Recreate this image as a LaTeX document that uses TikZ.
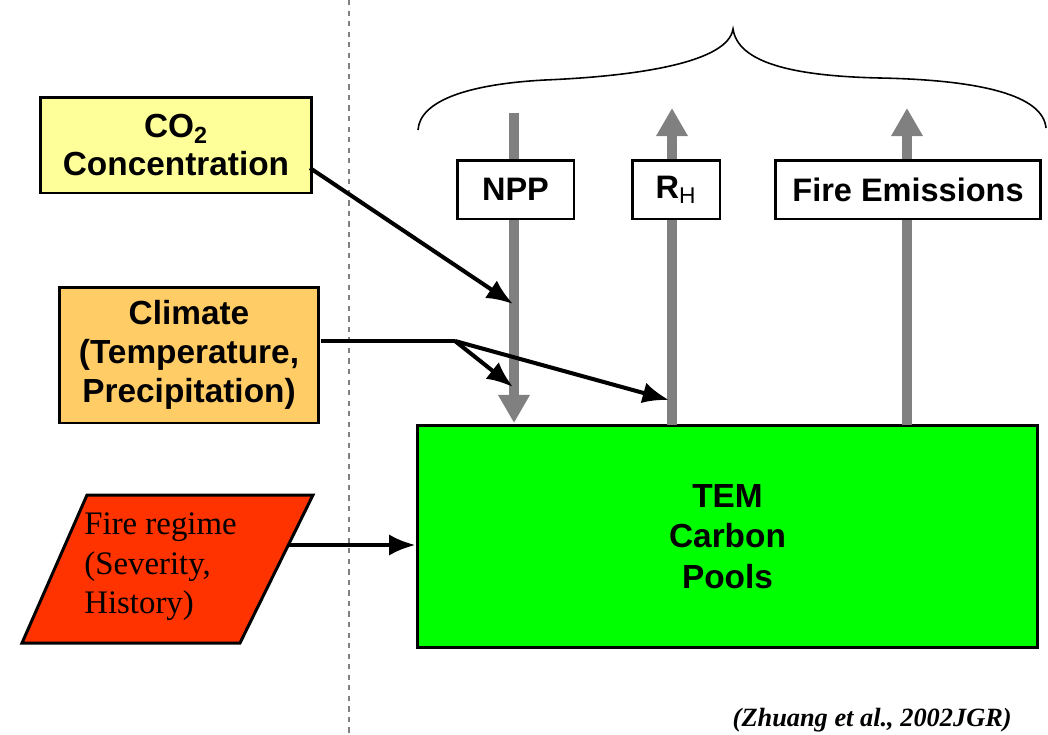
\documentclass[tikz,border=0pt]{standalone}
\usepackage{fontspec}
\setmainfont{Liberation Serif}
\setsansfont{Liberation Sans}
\usetikzlibrary{arrows.meta}
\definecolor{co2fill}{HTML}{FFFF99}
\definecolor{climfill}{HTML}{FFCC66}
\definecolor{firefill}{HTML}{FF3300}
\definecolor{poolfill}{HTML}{00FF00}
\definecolor{flowgray}{HTML}{808080}
\tikzset{
  inbox/.style={draw=black, line width=1.7pt, align=center, inner sep=0pt,
    font=\sffamily\bfseries\fontsize{18.5}{21}\selectfont},
  fluxbox/.style={draw=black, line width=1.7pt, fill=white, inner sep=0pt,
    minimum height=1.18cm, font=\sffamily\bfseries\fontsize{18.5}{21}\selectfont},
  driver/.style={line width=2.3pt, -{Latex[length=15pt,width=12pt]}},
  flux/.style={flowgray, line width=5.7pt, -{Triangle[length=16pt,width=17pt]}},
  shaft/.style={flowgray, line width=5.7pt},
}
\begin{document}
\begin{tikzpicture}[x=0.02cm, y=-0.02cm]
\useasboundingbox (0,0) rectangle (1048,734);
% separator
\draw[gray, dashed, line width=0.6pt] (349,0) -- (349,734);
% brace
\draw[line width=0.9pt] (418,130) .. controls (420,100) and (470,84) .. (545,80)
  .. controls (640,76) and (728,62) .. (733,29)
  .. controls (738,62) and (790,76) .. (880,78)
  .. controls (980,80) and (1043,95) .. (1046,128);
% driver boxes
\node[inbox, fill=co2fill, minimum width=5.44cm, minimum height=1.92cm,
  font=\sffamily\bfseries\fontsize{19}{21.5}\selectfont] (co2) at (176,145)
  {CO\textsubscript{2}\\Concentration};
\node[inbox, fill=climfill, minimum width=5.2cm, minimum height=2.72cm,
  font=\sffamily\bfseries\fontsize{19}{22}\selectfont] (clim) at (189,355)
  {Climate\\(Temperature,\\Precipitation)};
% fire regime parallelogram
\filldraw[fill=firefill, draw=black, line width=1.7pt]
  (87,495) -- (313,495) -- (240,643) -- (22,643) -- cycle;
\node[anchor=west, align=left, inner sep=0pt,
  font=\rmfamily\fontsize{18.7}{22.5}\selectfont] (fire) at (84,567)
  {Fire regime\\(Severity,\\History)};
\coordinate (fireout) at (289,545);
% carbon pools
\node[inbox, fill=poolfill, minimum width=12.42cm, minimum height=4.46cm,
  font=\sffamily\bfseries\fontsize{19}{23}\selectfont] (pools) at (727.5,536.5)
  {TEM\\Carbon\\Pools};
% flux labels
\node[fluxbox, minimum width=2.34cm] (npp) at (515.5,189.5) {NPP};
\node[fluxbox, minimum width=1.76cm] (rh) at (676,189.5) {R\textsubscript{\mdseries H}};
\node[fluxbox, minimum width=5.3cm] (fe) at (908,189.5) {Fire Emissions};
% flux coordinates
\coordinate (nppTop) at (514,113);
\coordinate (nppBot) at (514,423);
\coordinate (rhBot) at (672,425);
\coordinate (rhTop) at (672,108);
\coordinate (feBot) at (907,425);
\coordinate (feTop) at (907,108);
% gray flux arrows
\draw[shaft] (nppTop) -- (nppTop |- npp.north);
\draw[flux] (npp.south -| nppTop) -- (nppBot);
\draw[shaft] (rhBot) -- (rh.south -| rhBot);
\draw[flux] (rh.north -| rhBot) -- (rhTop);
\draw[shaft] (feBot) -- (fe.south -| feBot);
\draw[flux] (fe.north -| feBot) -- (feTop);
% driver arrows
\coordinate (co2out) at (310,168);
\coordinate (nppIn1) at (513,304);
\coordinate (climout) at (321,341);
\coordinate (split) at (455,341);
\coordinate (nppIn2) at (513,387);
\coordinate (rhIn) at (669,400);
\draw[driver] (co2out) -- (nppIn1);
\draw[line width=2.3pt] (climout) -- (split);
\draw[driver] (split) -- (nppIn2);
\draw[driver] (split) -- (rhIn);
\draw[driver] (fireout) -- (pools.west |- fireout);
% citation
\node[anchor=east, inner sep=0pt, font=\rmfamily\bfseries\itshape\fontsize{15}{17}\selectfont]
  (cite) at (1012,720) {(Zhuang et al., 2002JGR)};
\end{tikzpicture}
\end{document}
